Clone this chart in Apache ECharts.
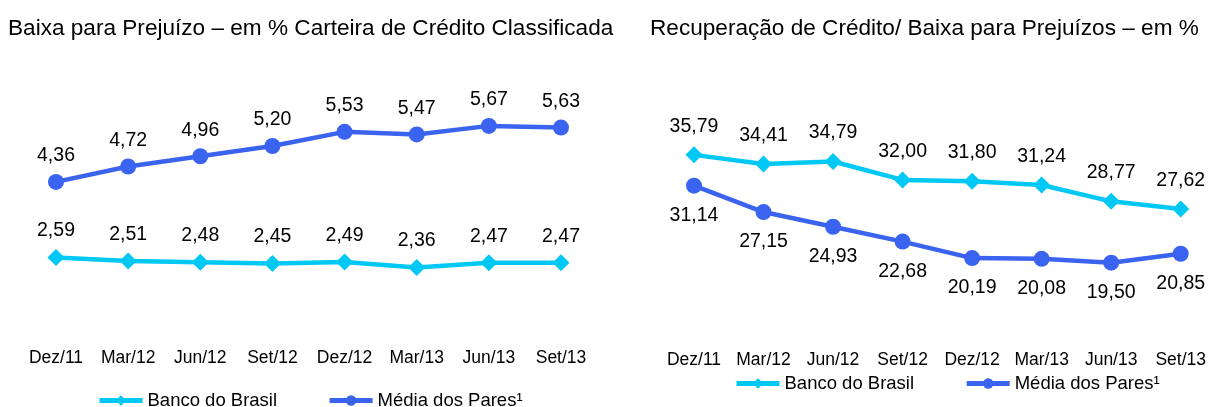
<!DOCTYPE html>
<html>
<head>
<meta charset="utf-8">
<script src="https://cdn.jsdelivr.net/npm/echarts@6/dist/echarts.min.js"></script>
<style>
  html, body { margin: 0; padding: 0; background: #fff; }
  #chart { width: 1209px; height: 407px; }
</style>
</head>
<body>
<div id="chart"></div>
<script>
var categories = ['Dez/11', 'Mar/12', 'Jun/12', 'Set/12', 'Dez/12', 'Mar/13', 'Jun/13', 'Set/13'];

// Baixa para Prejuízo – em % Carteira de Crédito Classificada
var baixaBB = [2.59, 2.51, 2.48, 2.45, 2.49, 2.36, 2.47, 2.47];
var baixaPares = [4.36, 4.72, 4.96, 5.20, 5.53, 5.47, 5.67, 5.63];

// Recuperação de Crédito/ Baixa para Prejuízos – em %
var recupBB = [35.79, 34.41, 34.79, 32.00, 31.80, 31.24, 28.77, 27.62];
var recupPares = [31.14, 27.15, 24.93, 22.68, 20.19, 20.08, 19.50, 20.85];

var cyan = '#00c8f5';
var blue = '#3a63ef';
var font = 'Liberation Sans, Arial, sans-serif';

function fmt(p) {
  return p.value.toFixed(2).replace('.', ',');
}

function xAxis(grid, margin) {
  return {
    type: 'category', gridIndex: grid, data: categories, boundaryGap: false,
    axisLine: { show: false }, axisTick: { show: false },
    axisLabel: { color: '#000', fontSize: 17.5, fontFamily: font, margin: margin, interval: 0, hideOverlap: false }
  };
}

function yAxis(grid, min, max) {
  return { type: 'value', gridIndex: grid, min: min, max: max, show: false };
}

function line(name, data, grid, color, symbol, size, pos, dist) {
  return {
    name: name, type: 'line', xAxisIndex: grid, yAxisIndex: grid, data: data,
    symbol: symbol, symbolSize: size,
    lineStyle: { color: color, width: 4.5 },
    itemStyle: { color: color },
    label: { show: true, position: pos, distance: dist, color: '#000', fontSize: 19.5, fontFamily: font, formatter: fmt },
    animation: false
  };
}

function legend(left, top, gap, names) {
  return {
    left: left, top: top, padding: 0, itemWidth: 43, itemHeight: 13, itemGap: gap,
    lineStyle: { width: 5 },
    textStyle: { color: '#000', fontSize: 18.5, fontFamily: font },
    data: names
  };
}

var myChart = echarts.init(document.getElementById('chart'));

var option = {
  animation: false,
  title: [
    { text: 'Baixa para Prejuízo – em % Carteira de Crédito Classificada', left: 8, top: 17, padding: 0,
      textStyle: { color: '#000', fontSize: 22.6, fontWeight: 'normal', fontFamily: font } },
    { text: 'Recuperação de Crédito/ Baixa para Prejuízos – em %', left: 650, top: 17, padding: 0,
      textStyle: { color: '#000', fontSize: 22.6, fontWeight: 'normal', fontFamily: font } }
  ],
  legend: [
    legend(97, 391, 50, ['Banco do Brasil', 'Média dos Pares¹']),
    legend(734, 374, 45, ['Banco do Brasil ', 'Média dos Pares¹ '])
  ],
  grid: [
    { left: 56, right: 648, top: 69, bottom: 60 },
    { left: 694, right: 26, top: 127, bottom: 55 }
  ],
  xAxis: [xAxis(0, 2), xAxis(1, -1)],
  yAxis: [yAxis(0, 0.5, 7), yAxis(1, 6, 40)],
  series: [
    line('Banco do Brasil', baixaBB, 0, cyan, 'diamond', 17, 'top', 8),
    line('Média dos Pares¹', baixaPares, 0, blue, 'circle', 16, 'top', 8),
    line('Banco do Brasil ', recupBB, 1, cyan, 'diamond', 17, 'top', 10),
    line('Média dos Pares¹ ', recupPares, 1, blue, 'circle', 16, 'bottom', 12)
  ]
};

myChart.setOption(option);
</script>
</body>
</html>
